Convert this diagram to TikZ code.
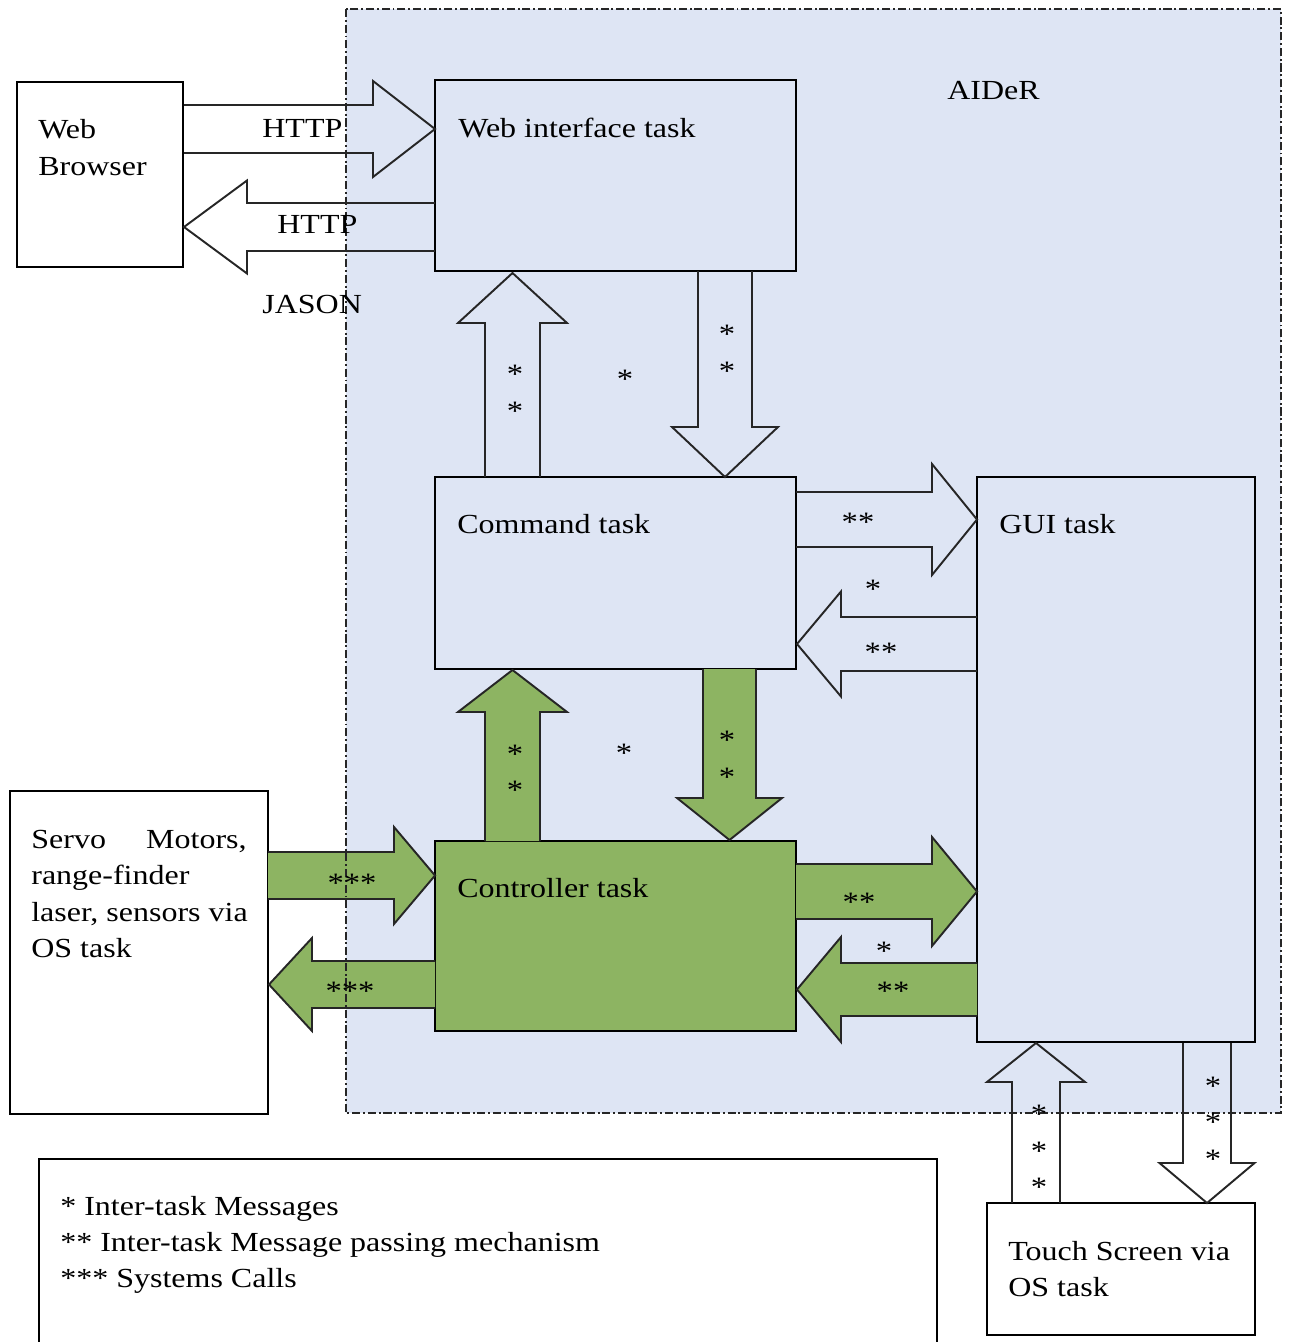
\documentclass[tikz,border=0pt]{standalone}
\usepackage{fontspec}
\setmainfont[FakeStretch=1.16]{Liberation Serif}
\usetikzlibrary{fit}
\definecolor{aiderblue}{RGB}{222,229,244}
\definecolor{ctrlgreen}{RGB}{141,180,98}
\tikzset{
  box/.style={draw=black, line width=1.1pt, inner sep=0pt},
  arrline/.style={draw=black!85, line width=1.1pt, line join=miter},
  greenarrow/.style={fill=ctrlgreen},
  plainarrow/.style={},
  txt/.style={font=\fontsize{15.7pt}{21pt}\selectfont, inner sep=0pt, anchor=base west},
  starmark/.style={font=\fontsize{16pt}{21pt}\selectfont, inner sep=0pt, anchor=base, yshift=-7.8pt},
  border/.style={draw=black!85, line width=1.3pt, dash pattern=on 4.6pt off 1.6pt on 1.1pt off 1.6pt}
}
% horizontal block arrow: style, base x, head-base x, tip x, centre y, shaft half, head half
\newcommand\HArrow[7]{%
  \path[#1] (#2,#5-#6) -- (#3,#5-#6) -- (#3,#5-#7) -- (#4,#5) -- (#3,#5+#7) -- (#3,#5+#6) -- (#2,#5+#6) -- cycle;
  \draw[arrline] (#2,#5-#6) -- (#3,#5-#6) -- (#3,#5-#7) -- (#4,#5) -- (#3,#5+#7) -- (#3,#5+#6) -- (#2,#5+#6);
}
% vertical block arrow: style, base y, head-base y, tip y, centre x, shaft half, head half
\newcommand\VArrow[7]{%
  \path[#1] (#5-#6,#2) -- (#5-#6,#3) -- (#5-#7,#3) -- (#5,#4) -- (#5+#7,#3) -- (#5+#6,#3) -- (#5+#6,#2) -- cycle;
  \draw[arrline] (#5-#6,#2) -- (#5-#6,#3) -- (#5-#7,#3) -- (#5,#4) -- (#5+#7,#3) -- (#5+#6,#3) -- (#5+#6,#2);
}
\begin{document}
\begin{tikzpicture}[x=0.02cm, y=-0.02cm]
\useasboundingbox (0,0) rectangle (1288,1342);
\clip (0,0) rectangle (1288,1342);
% AIDeR region fill
\fill[aiderblue] (346,9) rectangle (1281,1113);

% boxes
\node[box, fill=white, fit={(17,82)(183,267)}] (browser) {};
\node[box, fit={(435,80)(796,271)}] (web) {};
\node[box, fit={(435,477)(796,669)}] (cmd) {};
\node[box, fit={(977,477)(1255,1042)}] (gui) {};
\node[box, fill=ctrlgreen, fit={(435,841)(796,1031)}] (ctrl) {};
\node[box, fill=white, fit={(10,791)(268,1114)}] (servo) {};
\node[box, fill=white, fit={(987,1203)(1255,1335)}] (touch) {};
\node[box, line width=1.3pt, fit={(39,1159)(937,1360)}] (legend) {};

% block arrows
\HArrow{plainarrow}{184}{373}{435}{129}{24}{48}
\HArrow{plainarrow}{435}{247}{184}{227}{24}{46.5}
\VArrow{plainarrow}{477}{323}{273}{512.5}{27.5}{54.5}
\VArrow{plainarrow}{271}{427}{477}{725}{27}{53}
\HArrow{plainarrow}{796}{932}{977}{519.5}{27.5}{55.5}
\HArrow{plainarrow}{977}{841}{797}{644}{27}{52.5}
\VArrow{greenarrow}{841}{712}{670}{512.5}{27.5}{54.5}
\VArrow{greenarrow}{669}{798}{840}{729.5}{26.5}{52.5}
\HArrow{greenarrow}{268}{394}{435}{875.5}{23.5}{48.5}
\HArrow{greenarrow}{435}{312}{269}{984.5}{23.5}{46.5}
\HArrow{greenarrow}{796}{932}{977}{891.5}{27.5}{54.5}
\HArrow{greenarrow}{977}{841}{797}{989.5}{26.5}{52.5}
\VArrow{plainarrow}{1203}{1082}{1043}{1036}{24}{49}
\VArrow{plainarrow}{1043}{1163}{1203}{1207}{24}{47.5}

% AIDeR border
\draw[border] (346,9) rectangle (1281,1113);

% texts
\node[txt] (aider) at (947,99) {AIDeR};
\node[txt] (browserA) at (38,138) {Web};
\node[txt] (browserB) at (38,175) {Browser};
\node[txt] (webt) at (458,137) {Web interface task};
\node[txt] (cmdt) at (457,533) {Command task};
\node[txt] (guit) at (999,533) {GUI task};
\node[txt] (ctrlt) at (457,897) {Controller task};
\node[txt] (http1) at (262,137) {HTTP};
\node[txt] (http2) at (277,233) {HTTP};
\node[txt] (jason) at (262,313) {JASON};
\node[txt] (servoA) at (31,848) {Servo};
\node[txt, anchor=base east] (servoB) at (247,848) {Motors,};
\node[txt] (servoC) at (31,884.5) {range-finder};
\node[txt] (servoD) at (31,921) {laser, sensors via};
\node[txt] (servoE) at (31,957.5) {OS task};
\node[txt] (touchA) at (1008,1260) {Touch Screen via};
\node[txt] (touchB) at (1008,1296) {OS task};
\node[txt] (legA) at (60,1215) {* Inter-task Messages};
\node[txt] (legB) at (60,1251) {** Inter-task Message passing mechanism};
\node[txt] (legC) at (60,1287) {*** Systems Calls};

% star marks
\node[starmark] (s1) at (515,370) {*};
\node[starmark] (s2) at (515,407) {*};
\node[starmark] (s3) at (625,375) {*};
\node[starmark] (s4) at (727,330) {*};
\node[starmark] (s5) at (727,367) {*};
\node[starmark] (s6) at (858,518) {**};
\node[starmark] (s7) at (873,585) {*};
\node[starmark] (s8) at (881,648) {**};
\node[starmark] (s9) at (515,750) {*};
\node[starmark] (s10) at (515,786) {*};
\node[starmark] (s11) at (624,749) {*};
\node[starmark] (s12) at (727,736) {*};
\node[starmark] (s13) at (727,773) {*};
\node[starmark] (s14) at (352,879) {***};
\node[starmark] (s15) at (350,987) {***};
\node[starmark] (s16) at (859,898) {**};
\node[starmark] (s17) at (884,947) {*};
\node[starmark] (s18) at (893,987) {**};
\node[starmark] (s19) at (1039,1110) {*};
\node[starmark] (s20) at (1039,1147) {*};
\node[starmark] (s21) at (1039,1183) {*};
\node[starmark] (s22) at (1213,1082) {*};
\node[starmark] (s23) at (1213,1118) {*};
\node[starmark] (s24) at (1213,1155) {*};
\end{tikzpicture}
\end{document}
